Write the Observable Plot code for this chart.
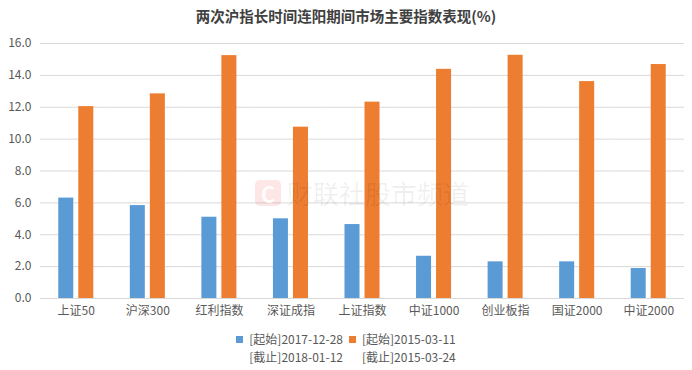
<!DOCTYPE html>
<html>
<head>
<meta charset="utf-8">
<script src="https://cdn.jsdelivr.net/npm/d3@7"></script>
<script src="https://cdn.jsdelivr.net/npm/@observablehq/plot@0.6"></script>
<style>
  html, body { margin: 0; padding: 0; background: #fff; }
  body { width: 692px; height: 370px; position: relative; overflow: hidden;
         font-family: "Noto Sans CJK SC", "Noto Sans", sans-serif; color: #595959; }
  #title { height: 30px; line-height: 32px; text-align: center; font-size: 14.5px; font-weight: bold; color: #404040; }
  #chart { position: relative; }
  #legend { display: flex; justify-content: center; gap: 6px; font-size: 12px; margin-top: 2px; }
  .item { display: flex; align-items: flex-start; }
  .line { height: 17.6px; line-height: 17.6px; white-space: nowrap; }
  .sw { width: 7px; height: 7px; margin: 5.5px 6px 0 0; }
  #wm { position: absolute; left: 255px; top: 174px; display: flex; align-items: center; gap: 6px;
        font-size: 26px; color: rgba(0,0,0,0.07); pointer-events: none; }
  #wm .logo { width: 26px; height: 26px; border-radius: 5px; background: rgba(230,60,60,0.13);
              color: rgba(255,255,255,0.9); font-weight: bold; font-size: 22px; line-height: 26px; text-align: center; }
</style>
</head>
<body>
<div id="title">两次沪指长时间连阳期间市场主要指数表现(%)</div>
<div id="chart"></div>
<div id="legend"></div>
<div id="wm"><span class="logo">C</span><span>财联社股市频道</span></div>
<script>
const categories = ["上证50","沪深300","红利指数","深证成指","上证指数","中证1000","创业板指","国证2000","中证2000"];
const series1Values = [6.3, 5.83, 5.1, 5.0, 4.64, 2.65, 2.3, 2.3, 1.88];
const series2Values = [12.04, 12.84, 15.24, 10.75, 12.32, 14.38, 15.26, 13.61, 14.68];
const seriesNames = ["s1", "s2"];
const seriesLabels = [["[起始]2017-12-28", "[截止]2018-01-12"], ["[起始]2015-03-11", "[截止]2015-03-24"]];
const seriesColors = ["#5b9bd5", "#ed7d31"];
const yTicks = [0, 2, 4, 6, 8, 10, 12, 14, 16];

const rows = [];
categories.forEach((c, i) => {
  rows.push({cat: c, series: seriesNames[0], value: series1Values[i]});
  rows.push({cat: c, series: seriesNames[1], value: series2Values[i]});
});

const chart = Plot.plot({
  width: 692,
  height: 298,
  marginTop: 13,
  marginBottom: 30,
  marginLeft: 40,
  marginRight: 8,
  style: { fontFamily: '"Noto Sans CJK SC", "Noto Sans", sans-serif', fontSize: "12px", color: "#595959", background: "transparent" },
  fx: { domain: categories, padding: 0, round: false, axis: "bottom", label: null, tickSize: 0, tickPadding: 8 },
  x: { domain: seriesNames, paddingInner: 0.25, paddingOuter: 0.9125, round: false, axis: null },
  y: { domain: [0, 16], ticks: yTicks, tickFormat: d3.format(".1f"), tickSize: 0, tickPadding: 9, label: null },
  color: { domain: seriesNames, range: seriesColors },
  marks: [
    Plot.ruleY(yTicks, { stroke: "#d9d9d9", strokeWidth: 1 }),
    Plot.barY(rows, { fx: "cat", x: "series", y: "value", fill: "series" })
  ]
});
document.getElementById("chart").appendChild(chart);

const legend = document.getElementById("legend");
seriesNames.forEach((s, i) => {
  const item = document.createElement("div");
  item.className = "item";
  const sw = document.createElement("div");
  sw.className = "sw";
  sw.style.background = seriesColors[i];
  const txt = document.createElement("div");
  seriesLabels[i].forEach(t => {
    const ln = document.createElement("div");
    ln.className = "line";
    ln.textContent = t;
    txt.appendChild(ln);
  });
  item.appendChild(sw);
  item.appendChild(txt);
  legend.appendChild(item);
});
</script>
</body>
</html>
